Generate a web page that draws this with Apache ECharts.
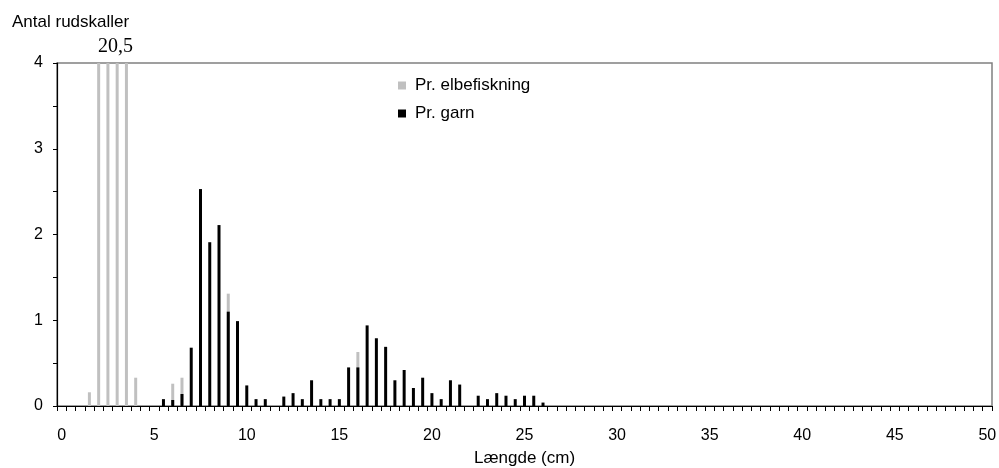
<!DOCTYPE html>
<html>
<head>
<meta charset="utf-8">
<script src="https://cdn.jsdelivr.net/npm/echarts@6/dist/echarts.min.js"></script>
<style>html,body{margin:0;padding:0;background:#fff;}#c{width:999px;height:468px;}</style>
</head>
<body>
<div id="c"></div>
<script>
// Length classes (cm), 0 to 50 in steps of 0.5
const categories = [];
for (let i = 0; i <= 100; i++) categories.push(String(i / 2));

// Pr. elbefiskning (grey)
const elbLengths = [1.5, 2.0, 2.5, 3.0, 3.5, 4.0, 6.0, 6.5, 9.0, 16.0];
const elbValues  = [0.16, 20.5, 20.5, 20.5, 20.5, 0.33, 0.26, 0.33, 1.31, 0.63];

// Pr. garn (black)
const garnLengths = [5.5, 6.0, 6.5, 7.0, 7.5, 8.0, 8.5, 9.0, 9.5, 10.0, 10.5, 11.0,
  12.0, 12.5, 13.0, 13.5, 14.0, 14.5, 15.0, 15.5, 16.0, 16.5, 17.0, 17.5, 18.0, 18.5,
  19.0, 19.5, 20.0, 20.5, 21.0, 21.5, 22.5, 23.0, 23.5, 24.0, 24.5, 25.0, 25.5, 26.0];
const garnValues = [0.08, 0.07, 0.14, 0.68, 2.53, 1.91, 2.11, 1.10, 0.99, 0.24, 0.08, 0.08,
  0.11, 0.15, 0.08, 0.30, 0.08, 0.08, 0.08, 0.45, 0.45, 0.94, 0.79, 0.69, 0.30, 0.42,
  0.21, 0.33, 0.15, 0.08, 0.30, 0.25, 0.12, 0.08, 0.15, 0.12, 0.08, 0.12, 0.12, 0.04];

const yTicks = [0, 1, 2, 3, 4];
const breakLabel = '20,5';

function toSeries(lengths, values) {
  const arr = categories.map(() => '-');
  lengths.forEach((l, i) => { arr[Math.round(l * 2)] = values[i]; });
  return arr;
}

const chart = echarts.init(document.getElementById('c'), null, {renderer: 'canvas'});
const font = 'Liberation Sans, Arial, sans-serif';
chart.setOption({
  animation: false,
  textStyle: {fontFamily: font},
  grid: {left: 57, right: 7, top: 63, bottom: 62, show: true, borderColor: '#808080', borderWidth: 1.5,
    containLabel: false, outerBoundsMode: 'none'},
  legend: {
    orient: 'vertical', left: 393, top: 72, itemWidth: 8, itemHeight: 8, itemGap: 11,
    textStyle: {fontFamily: font, fontSize: 17, color: '#000', padding: [0, 0, 0, 4]},
    data: [{name: 'Pr. elbefiskning', icon: 'rect'}, {name: 'Pr. garn', icon: 'rect'}]
  },
  xAxis: {
    type: 'category', data: categories, boundaryGap: true,
    name: 'Længde (cm)', nameLocation: 'middle', nameGap: 44,
    nameTextStyle: {fontFamily: font, fontSize: 17, color: '#000'},
    axisLine: {lineStyle: {color: '#000', width: 1.2}},
    axisTick: {show: true, interval: 0, length: 5, lineStyle: {color: '#000'}},
    axisLabel: {interval: 9, margin: 22, fontFamily: font, fontSize: 16, color: '#000',
      formatter: v => String(Number(v))},
    splitLine: {show: false}
  },
  yAxis: {
    type: 'value', min: 0, max: 4, interval: 0.5,
    name: 'Antal rudskaller', nameLocation: 'end', nameGap: 32,
    nameTextStyle: {fontFamily: font, fontSize: 17, color: '#000', align: 'left', padding: [0, 0, 0, -45]},
    axisLine: {show: true, lineStyle: {color: '#000', width: 1.2}},
    axisTick: {show: true, length: 4, lineStyle: {color: '#000'}},
    axisLabel: {margin: 14, fontFamily: font, fontSize: 16, color: '#000',
      formatter: v => (yTicks.indexOf(v) >= 0 ? String(v) : '')},
    splitLine: {show: false}
  },
  series: [
    {name: 'Pr. elbefiskning', type: 'bar', data: toSeries(elbLengths, elbValues),
     barWidth: 3, barGap: '-100%', itemStyle: {color: '#c0c0c0'}, clip: true, z: 2},
    {name: 'Pr. garn', type: 'bar', data: toSeries(garnLengths, garnValues),
     barWidth: 3, itemStyle: {color: '#000'}, clip: true, z: 3}
  ],
  graphic: [{
    type: 'text', left: 98, top: 37,
    style: {text: breakLabel, font: '20px "Liberation Serif", "Times New Roman", serif', fill: '#000'}
  }]
});
</script>
</body>
</html>
